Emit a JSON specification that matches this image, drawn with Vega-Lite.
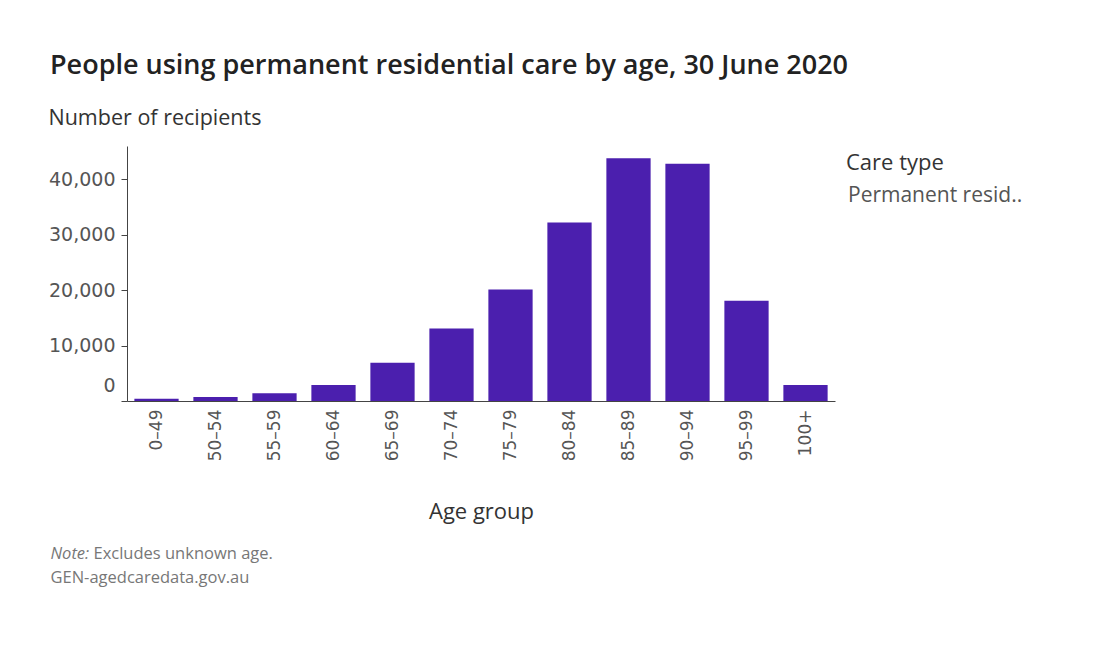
{
  "$schema": "https://vega.github.io/schema/vega-lite/v6.json",
  "width": 708,
  "height": 255,
  "autosize": {"type": "none"},
  "padding": {"left": 127, "top": 146, "right": 262, "bottom": 247},
  "background": "white",
  "config": {"view": {"stroke": null}, "font": "Open Sans"},
  "title": {
    "text": "People using permanent residential care by age, 30 June 2020",
    "anchor": "start",
    "frame": "group",
    "font": "Open Sans",
    "fontSize": 27,
    "fontWeight": 600,
    "color": "#222222",
    "dx": -77,
    "dy": -7,
    "offset": 20
  },
  "data": {
    "values": [
      {"age": "0–49", "care": "Permanent residential care", "recipients": 400},
      {"age": "50–54", "care": "Permanent residential care", "recipients": 700},
      {"age": "55–59", "care": "Permanent residential care", "recipients": 1400},
      {"age": "60–64", "care": "Permanent residential care", "recipients": 2900},
      {"age": "65–69", "care": "Permanent residential care", "recipients": 6900},
      {"age": "70–74", "care": "Permanent residential care", "recipients": 13100},
      {"age": "75–79", "care": "Permanent residential care", "recipients": 20100},
      {"age": "80–84", "care": "Permanent residential care", "recipients": 32200},
      {"age": "85–89", "care": "Permanent residential care", "recipients": 43800},
      {"age": "90–94", "care": "Permanent residential care", "recipients": 42800},
      {"age": "95–99", "care": "Permanent residential care", "recipients": 18100},
      {"age": "100+", "care": "Permanent residential care", "recipients": 2900}
    ]
  },
  "layer": [
    {
      "mark": {"type": "bar"},
      "encoding": {
        "x": {
          "field": "age",
          "type": "nominal",
          "sort": null,
          "scale": {"paddingInner": 0.25, "paddingOuter": 0.125},
          "axis": {
            "title": "Age group",
            "titleFont": "Open Sans",
            "titleFontSize": 22,
            "titleFontWeight": 400,
            "titleColor": "#333333",
            "titleBaseline": "alphabetic",
            "titleY": 117,
            "labelAngle": -90,
            "labelFont": "DejaVu Sans",
            "labelFontSize": 17,
            "labelColor": "#555555",
            "labelPadding": 8,
            "ticks": false,
            "domainColor": "#444444",
            "domainWidth": 1
          }
        },
        "y": {
          "field": "recipients",
          "type": "quantitative",
          "scale": {"domain": [0, 46000], "nice": false},
          "axis": {
            "title": "Number of recipients",
            "titleFont": "Open Sans",
            "titleFontSize": 21.5,
            "titleFontWeight": 400,
            "titleColor": "#333333",
            "titleAngle": 0,
            "titleAlign": "left",
            "titleBaseline": "alphabetic",
            "titleX": -79,
            "titleY": -22,
            "values": [0, 10000, 20000, 30000, 40000],
            "format": ",d",
            "grid": false,
            "labelFont": "DejaVu Sans",
            "labelFontSize": 19,
            "labelColor": "#555555",
            "labelPadding": 6,
            "labelOffset": {"condition": {"test": "datum.value === 0", "value": -16}, "value": 0},
            "tickSize": 6,
            "tickColor": "#444444",
            "domainColor": "#444444"
          }
        },
        "color": {
          "field": "care",
          "type": "nominal",
          "scale": {"range": ["#4b1fae"]},
          "legend": {
            "title": "Care type",
            "orient": "none",
            "legendX": 719,
            "legendY": 7,
            "titleFont": "Open Sans",
            "titleFontSize": 22,
            "titleFontWeight": 400,
            "titleColor": "#333333",
            "titlePadding": 10,
            "labelFont": "Open Sans",
            "labelFontSize": 21,
            "labelColor": "#555555",
            "labelLimit": 400,
            "labelExpr": "slice(datum.label, 0, 15) + '..'",
            "symbolSize": 0,
            "symbolStrokeWidth": 0,
            "symbolOpacity": 0,
            "labelOffset": -19
          }
        }
      }
    },
    {
      "mark": {"type": "text", "opacity": 0},
      "encoding": {
        "x": {
          "field": "care",
          "type": "nominal",
          "axis": {
            "orient": "top",
            "title": "Note:",
            "titleFont": "Open Sans",
            "titleFontSize": 16.5,
            "titleFontWeight": 400,
            "titleFontStyle": "italic",
            "titleColor": "#777777",
            "titleAlign": "left",
            "titleAnchor": "start",
            "titleBaseline": "middle",
            "titleX": -77,
            "titleY": 407,
            "labels": false,
            "ticks": false,
            "domain": false
          }
        },
        "text": {"value": ""}
      }
    },
    {
      "mark": {"type": "text", "opacity": 0},
      "encoding": {
        "x": {
          "field": "care",
          "type": "nominal",
          "axis": {
            "orient": "top",
            "title": ["Excludes unknown age."],
            "titleFont": "Open Sans",
            "titleFontSize": 16.5,
            "titleFontWeight": 400,
            "titleColor": "#777777",
            "titleAlign": "left",
            "titleAnchor": "start",
            "titleBaseline": "middle",
            "titleX": -34,
            "titleY": 407,
            "labels": false,
            "ticks": false,
            "domain": false
          }
        },
        "text": {"value": ""}
      }
    },
    {
      "mark": {"type": "text", "opacity": 0},
      "encoding": {
        "x": {
          "field": "care",
          "type": "nominal",
          "axis": {
            "orient": "top",
            "title": "GEN-agedcaredata.gov.au",
            "titleFont": "Open Sans",
            "titleFontSize": 16.5,
            "titleFontWeight": 400,
            "titleColor": "#777777",
            "titleAlign": "left",
            "titleAnchor": "start",
            "titleBaseline": "middle",
            "titleX": -77,
            "titleY": 431,
            "labels": false,
            "ticks": false,
            "domain": false
          }
        },
        "text": {"value": ""}
      }
    }
  ],
  "resolve": {"scale": {"x": "independent"}, "axis": {"x": "independent"}}
}
